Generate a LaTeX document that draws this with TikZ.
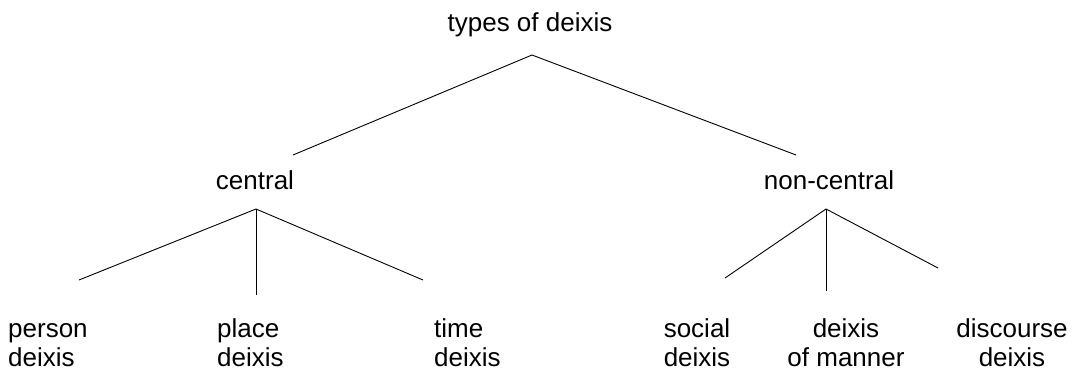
\documentclass[tikz,border=0pt]{standalone}
\usepackage{fontspec}
\setmainfont{Liberation Sans}
\usepackage{tikz}
\usetikzlibrary{positioning}
\tikzset{
  lbl/.style={inner sep=0pt,font=\fontsize{26}{29}\selectfont,anchor=base},
  leafl/.style={lbl,align=left,anchor=base west},
  leafc/.style={lbl,align=center},
  br/.style={draw=black,line width=0.9pt},
}

\begin{document}
\begin{tikzpicture}[x=1pt,y=-1pt]
  \useasboundingbox (0,0) rectangle (1073,372);
  \node[lbl] (root) at (530,31) {types of deixis};
  \node[lbl] (cen) at (255,189) {central};
  \node[lbl] (ncen) at (829,189) {non-central};
  % Blaetter
  \node[leafl] (pers) at (8,366) {person\\deixis};
  \node[leafl] (plac) at (217,366) {place\\deixis};
  \node[leafl] (time) at (434,366) {time\\deixis};
  \node[leafc] (soc) at (697,366) {social\\deixis};
  \node[leafc] (man) at (846,366) {deixis\\of manner};
  \node[leafc] (disc) at (1012,366) {discourse\\deixis};
  % Verzweigungspunkte
  \coordinate (rootft) at (532,55);
  \coordinate (cenhd) at (293,155);
  \coordinate (ncenhd) at (796,155);
  \coordinate (cenft) at (256,209);
  \coordinate (pershd) at (79,280);
  \coordinate (plachd) at (256,295);
  \coordinate (timehd) at (423,280);
  \coordinate (ncenft) at (826,209);
  \coordinate (sochd) at (725,278);
  \coordinate (manhd) at (826,291);
  \coordinate (dischd) at (938,268);
  \foreach \a/\b in {rootft/cenhd,rootft/ncenhd,cenft/pershd,cenft/plachd,cenft/timehd,
                     ncenft/sochd,ncenft/manhd,ncenft/dischd}{\draw[br] (\a) -- (\b);}
\end{tikzpicture}
\end{document}
